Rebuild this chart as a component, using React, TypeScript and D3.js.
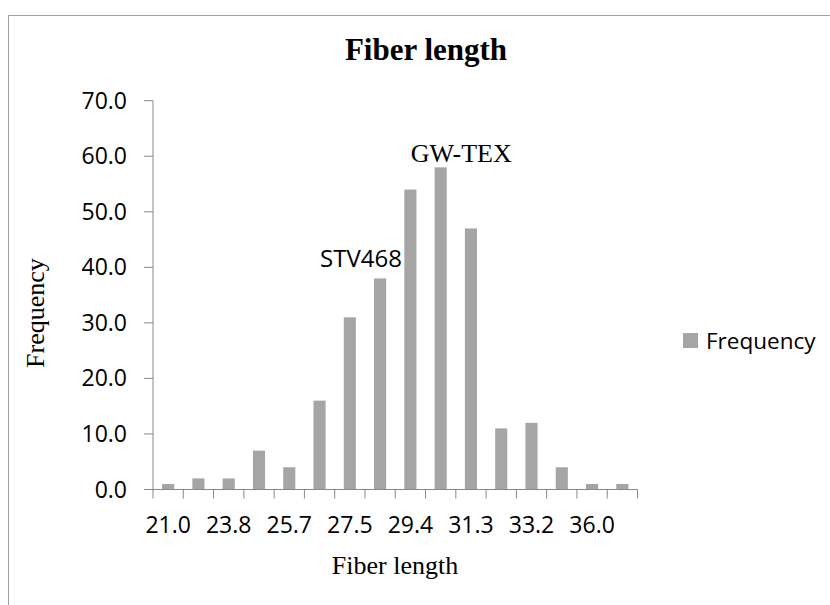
import React from "react";
import * as d3 from "d3";

// Histogram of fibre length: one bar per length bin
const frequencies = [1, 2, 2, 7, 4, 16, 31, 38, 54, 58, 47, 11, 12, 4, 1, 1];
// Labels printed under every second bin
const binTickLabels = ["21.0", "23.8", "25.7", "27.5", "29.4", "31.3", "33.2", "36.0"];
const yTicks = [0, 10, 20, 30, 40, 50, 60, 70];
const annotations = [
  { bin: 7, text: "STV468", serif: false },
  { bin: 9, text: "GW-TEX", serif: true },
];

const W = 830;
const H = 605;
const left = 153;
const right = 637.5;
const top = 100.7;
const bottom = 489.5;

const SANS = "'Open Sans', 'Noto Sans', sans-serif";
const SERIF = "'Liberation Serif', 'Times New Roman', serif";
const BAR = "#a5a5a5";
const AXIS = "#888888";

export default function App() {
  const bins = frequencies.map((_, i) => i);
  const x = d3.scaleBand<number>().domain(bins).range([left, right]).paddingInner(0.6).paddingOuter(0.3);
  const band = (right - left) / bins.length;
  const y = d3.scaleLinear().domain([0, 70]).range([bottom, top]);
  const center = (i: number) => (x(i) as number) + x.bandwidth() / 2;

  return (
    <svg width={W} height={H} style={{ position: "absolute", left: 0, top: 0, background: "#fff" }}>
      <rect x={8.5} y={15.5} width={W + 10} height={H + 10} fill="#fff" stroke="#a0a0a0" strokeWidth={1} />

      <text x={426} y={60} textAnchor="middle" fontFamily={SERIF} fontWeight="bold" fontSize={31} fill="#000">
        Fiber length
      </text>

      {/* value axis */}
      <line x1={left} x2={left} y1={top} y2={bottom} stroke={AXIS} />
      {yTicks.map((t) => (
        <g key={t}>
          <line x1={left - 9} x2={left} y1={y(t)} y2={y(t)} stroke={AXIS} />
          <text x={127} y={y(t)} dy="0.35em" textAnchor="end" fontFamily={SANS} fontSize={23} fill="#000">
            {d3.format(".1f")(t)}
          </text>
        </g>
      ))}

      {/* bars */}
      {frequencies.map((v, i) => (
        <rect key={i} x={x(i)} y={y(v)} width={x.bandwidth()} height={bottom - y(v)} fill={BAR} />
      ))}

      {/* category axis */}
      <line x1={left} x2={right} y1={bottom} y2={bottom} stroke={AXIS} />
      {d3.range(bins.length + 1).map((k) => (
        <line key={k} x1={left + k * band} x2={left + k * band} y1={bottom} y2={bottom + 9} stroke={AXIS} />
      ))}
      {binTickLabels.map((lab, k) => (
        <text key={lab} x={center(k * 2)} y={533} textAnchor="middle" fontFamily={SANS} fontSize={23} fill="#000">
          {lab}
        </text>
      ))}

      <text x={395} y={574} textAnchor="middle" fontFamily={SERIF} fontSize={26} fill="#000">
        Fiber length
      </text>
      <text
        transform={`translate(44, ${(top + bottom) / 2 + 18}) rotate(-90)`}
        textAnchor="middle"
        fontFamily={SERIF}
        fontSize={26}
        fill="#000"
      >
        Frequency
      </text>

      {annotations.map((a) => (
        <text
          key={a.text}
          x={a.serif ? center(a.bin) - 30 : center(a.bin) - 60}
          y={a.serif ? y(frequencies[a.bin]) - 5 : y(frequencies[a.bin]) - 11}
          fontFamily={a.serif ? SERIF : SANS}
          fontSize={a.serif ? 26 : 24}
          fill="#000"
        >
          {a.text}
        </text>
      ))}

      {/* legend */}
      <rect x={683} y={333} width={15} height={15} fill={BAR} />
      <text x={706} y={341} dy="0.35em" fontFamily={SANS} fontSize={22.5} fill="#000">
        Frequency
      </text>
    </svg>
  );
}
